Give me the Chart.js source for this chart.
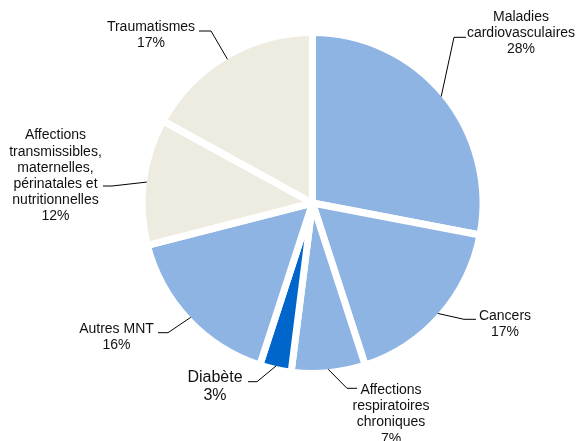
<!DOCTYPE html>
<html>
<head>
<meta charset="utf-8">
<script src="https://cdn.jsdelivr.net/npm/chart.js@4.4.0/dist/chart.umd.min.js"></script>
<style>
    body { margin: 0; background: #fff; }
    canvas { display: block; }
</style>
</head>
<body>
<canvas id="pieChart" width="577" height="441"></canvas>
<script>
// Data, clockwise from 12 o'clock
const categories = [
    'Maladies cardiovasculaires',
    'Cancers',
    'Affections respiratoires chroniques',
    'Diabète',
    'Autres MNT',
    'Affections transmissibles, maternelles, périnatales et nutritionnelles',
    'Traumatismes'
];
const shares = [28, 17, 7, 3, 16, 12, 17];
const labelLines = [
    ['Maladies', 'cardiovasculaires'],
    ['Cancers'],
    ['Affections', 'respiratoires', 'chroniques'],
    ['Diabète'],
    ['Autres MNT'],
    ['Affections', 'transmissibles,', 'maternelles,', 'périnatales et', 'nutritionnelles'],
    ['Traumatismes']
];
const sliceColors = ['#8EB4E3', '#8EB4E3', '#8EB4E3', '#0066CC', '#8EB4E3', '#EEECE1', '#EEECE1'];

// Where each label sits (text centre x, first baseline y, line height, font size)
// and the leader elbow + end of the horizontal stub
const labelLayout = [
    { cx: 521, y: 20.7, lh: 16.3, size: 14, elbow: [454, 37.3], end: 466 },
    { cx: 505, y: 320, lh: 16.3, size: 14, elbow: [464, 319.3], end: 476 },
    { cx: 391, y: 394, lh: 16.2, size: 14, elbow: [347, 388.3], end: 357 },
    { cx: 215, y: 381.7, lh: 18.5, size: 16, elbow: [257, 381.7], end: 248 },
    { cx: 116.5, y: 332.7, lh: 16.3, size: 14, elbow: [168, 332.7], end: 158 },
    { cx: 55.5, y: 139.3, lh: 16.2, size: 14, elbow: [112, 186], end: 103 },
    { cx: 151, y: 30.7, lh: 16, size: 14, elbow: [211, 31], end: 199 }
];

const BORDER = 7;

// Labels with leader lines, anchored on each slice's outer edge
const leaderLabels = {
    id: 'leaderLabels',
    afterDraw(chart) {
        const ctx = chart.ctx;
        const arcs = chart.getDatasetMeta(0).data;
        ctx.save();
        arcs.forEach((arc, i) => {
            const L = labelLayout[i];
            const p = arc.getProps(['x', 'y', 'startAngle', 'endAngle', 'outerRadius'], true);
            const mid = (p.startAngle + p.endAngle) / 2;
            const r = p.outerRadius - BORDER / 2;
            const ax = p.x + Math.cos(mid) * r;
            const ay = p.y + Math.sin(mid) * r;

            ctx.strokeStyle = '#000';
            ctx.lineWidth = 1;
            ctx.beginPath();
            ctx.moveTo(ax, ay);
            ctx.lineTo(L.elbow[0], L.elbow[1]);
            ctx.lineTo(L.end, L.elbow[1]);
            ctx.stroke();

            const lines = labelLines[i].concat([shares[i] + '%']);
            ctx.fillStyle = '#111';
            ctx.font = L.size + 'px "Liberation Sans", Arial, sans-serif';
            ctx.textAlign = 'center';
            ctx.textBaseline = 'alphabetic';
            lines.forEach((t, k) => {
                ctx.fillText(t, L.cx, L.y + k * L.lh);
            });
        });
        ctx.restore();
    }
};

const ctx = document.getElementById('pieChart').getContext('2d');
new Chart(ctx, {
    type: 'pie',
    data: {
        labels: categories,
        datasets: [{
            data: shares,
            backgroundColor: sliceColors,
            borderColor: '#ffffff',
            borderWidth: BORDER
        }]
    },
    options: {
        responsive: false,
        animation: false,
        layout: {
            // border width is taken off the radius by the library, so pad a bit less
            padding: { left: 138.5, right: 90.5, top: 29, bottom: 64 }
        },
        plugins: {
            legend: { display: false },
            tooltip: { enabled: false }
        }
    },
    plugins: [leaderLabels]
});
</script>
</body>
</html>
